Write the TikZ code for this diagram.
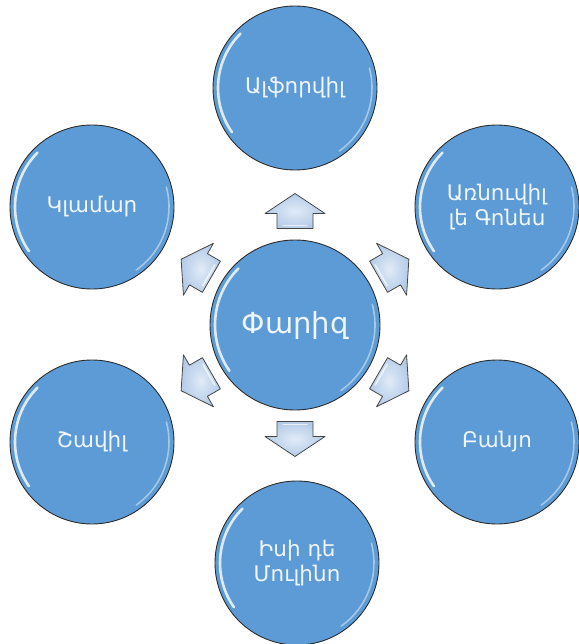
\documentclass[tikz,border=0pt]{standalone}
\usepackage{fontspec}
\setmainfont{DejaVu Sans}
\definecolor{circfill}{RGB}{92,155,213}
\definecolor{circline}{RGB}{45,45,45}
\definecolor{arrtop}{RGB}{224,235,247}
\definecolor{arrbot}{RGB}{180,203,232}
\definecolor{arrline}{RGB}{70,70,70}
\definecolor{txt}{RGB}{240,246,252}
\tikzset{
  bubble/.style={circle, minimum size=164pt, inner sep=0pt, fill=circfill,
    draw=circline, line width=0.9pt, text=txt, align=center,
    font=\fontsize{21.5}{25.5}\selectfont},
  hub/.style={bubble, minimum size=170pt, font=\fontsize{29}{32}\selectfont},
  blockarrow/.style={draw=arrline, line width=0.8pt, line join=round,
    inner color=arrtop, outer color=arrbot},
  glossA/.style={white, opacity=0.8, line width=2.6pt, line cap=round},
  glossB/.style={white, opacity=0.45, line width=1.6pt, line cap=round}
}
\begin{document}
\begin{tikzpicture}[x=1pt, y=-1pt]
  \useasboundingbox (0,0) rectangle (578,644);
  \node[hub] (hub) at (295,325) {Փարիզ};
  \node[bubble] (n1) at (295,88) {Ալֆորվիլ};
  \node[bubble] (n2) at (497,207) {Առնուվիլ\\լե Գոնես};
  \node[bubble] (n3) at (497,442) {Բանյո};
  \node[bubble] (n4) at (297,563) {Իսի դե\\Մուլինո};
  \node[bubble] (n5) at (92,442) {Շավիլ};
  \node[bubble] (n6) at (92,207) {Կլամար};
  % gloss highlights
  \foreach \n/\r in {hub/80, n1/77, n2/77, n3/77, n4/77, n5/77, n6/77}{
    \begin{scope}[shift={(\n.center)}, x=1pt, y=1pt]
      \draw[glossA] (135:\r) arc (135:215:\r);
      \draw[glossB] (-55:\r) arc (-55:15:\r);
    \end{scope}
  }
  % block arrows pointing outward
  \foreach \a in {90,30,-30,-90,-150,150}{
    \begin{scope}[shift={(hub.center)}, rotate=\a, x=1pt, y=1pt]
      \draw[blockarrow] (131.5,0) -- (111.5,30) -- (111.5,18) -- (96.5,18)
        -- (96.5,-18) -- (111.5,-18) -- (111.5,-30) -- cycle;
      \draw[white, opacity=0.7, line width=1.5pt, line cap=round]
        (99.5,-12) -- (99.5,12);
    \end{scope}
  }
\end{tikzpicture}
\end{document}
